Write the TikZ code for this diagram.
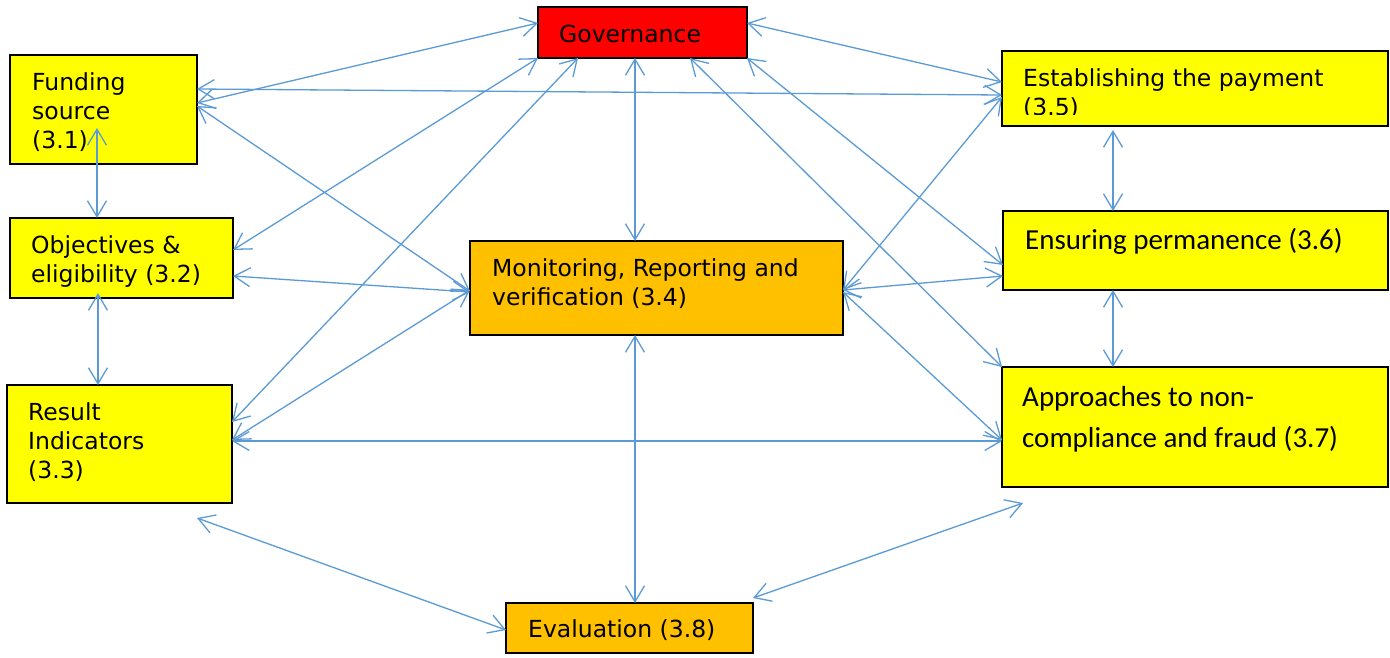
\documentclass[tikz,border=0pt]{standalone}
\usepackage{fontspec}
\setmainfont{DejaVu Sans}
\newfontfamily\calib{Carlito}
\usetikzlibrary{arrows.meta,calc}
\definecolor{arrowblue}{RGB}{91,155,213}
\definecolor{boxyellow}{RGB}{255,255,0}
\definecolor{boxorange}{RGB}{255,192,0}
\definecolor{boxred}{RGB}{255,0,0}
\begin{document}
\begin{tikzpicture}[x=1pt,y=-1pt,
  box/.style={draw=black, line width=1.6pt, anchor=north west, inner sep=0pt, outer sep=0pt},
  lbl/.style={anchor=base west, inner sep=0pt, font=\fontsize{23.5}{29}\selectfont},
  clbl/.style={anchor=base west, inner sep=0pt, font=\calib\fontsize{29}{41}\selectfont},
  conn/.style={draw=arrowblue, line width=1.3pt, {Straight Barb[length=16pt,width=19pt]}-{Straight Barb[length=16pt,width=19pt]}}]
\useasboundingbox (0,0) rectangle (1390,657);
\fill[white] (0,0) rectangle (1390,657);
% boxes
\node[box, fill=boxyellow, minimum width=187pt, minimum height=109pt] (fund) at (10,55) {};
\node[box, fill=boxyellow, minimum width=223pt, minimum height=80pt] (obj) at (10,218) {};
\node[box, fill=boxyellow, minimum width=225pt, minimum height=118pt] (res) at (7,385) {};
\node[box, fill=boxred, minimum width=209pt, minimum height=51pt] (gov) at (538,7) {};
\node[box, fill=boxorange, minimum width=373pt, minimum height=94pt] (mon) at (470,241) {};
\node[box, fill=boxyellow, minimum width=386pt, minimum height=75pt] (est) at (1002,51) {};
\node[box, fill=boxyellow, minimum width=385pt, minimum height=79pt] (ens) at (1003,211) {};
\node[box, fill=boxyellow, minimum width=386pt, minimum height=120pt] (app) at (1002,367) {};
\node[box, fill=boxorange, minimum width=247pt, minimum height=50pt] (eva) at (506,603) {};
% texts
\node[lbl] (fundt) at (32,90) {\vtop{\hbox{Funding}\hbox{source}\hbox{(3.1)}}};
\node[lbl] (objt) at (31,253) {\vtop{\hbox{Objectives \&}\hbox{eligibility (3.2)}}};
\node[lbl] (rest) at (28,420) {\vtop{\hbox{Result}\hbox{Indicators}\hbox{(3.3)}}};
\node[lbl] (govt) at (559,42) {Governance};
\node[lbl] (mont) at (492,276) {\vtop{\hbox{Monitoring, Reporting and}\hbox{verification (3.4)}}};
\begin{scope}
\clip (1002,51) rectangle (1388,114);
\node[lbl] (estt) at (1023,86) {\vtop{\hbox{Establishing the payment}\hbox{(3.5)}}};
\end{scope}
\node[clbl] (enst) at (1025,249) {Ensuring permanence (3.6)};
\node[clbl] (appt) at (1022,406) {\vtop{\hbox{Approaches to non-}\hbox{compliance and fraud (3.7)}}};
\node[lbl] (evat) at (528,637) {Evaluation (3.8)};
% free ends
\coordinate (resfree) at (197,518);
\coordinate (evafree) at (753,598);
\coordinate (appfree) at (1023,503);
% connectors
\draw[conn] ($(fund.north west)+(87,73)$) -- ($(obj.north west)+(87,0)$);
\draw[conn] ($(obj.north west)+(88,75)$) -- ($(res.north west)+(91,0)$);
\draw[conn] ($(fund.north east)+(0,48)$) -- ($(gov.north west)+(0,16)$);
\draw[conn] ($(fund.north east)+(0,34)$) -- ($(est.north west)+(0,44)$);
\draw[conn] ($(gov.north east)+(0,16)$) -- ($(est.north west)+(0,31)$);
\draw[conn] (gov.south west) -- ($(obj.north east)+(0,32)$);
\draw[conn] ($(gov.south west)+(40,0)$) -- ($(res.north east)+(0,37)$);
\draw[conn] ($(gov.south west)+(97,0)$) -- ($(mon.north west)+(165,0)$);
\draw[conn] (gov.south east) -- ($(ens.north west)+(0,54)$);
\draw[conn] ($(gov.south west)+(152,0)$) -- (app.north west);
\draw[conn] ($(fund.north east)+(0,51)$) -- ($(mon.north west)+(0,50)$);
\draw[conn] ($(obj.north east)+(0,58)$) -- ($(mon.north west)+(0,51)$);
\draw[conn] ($(res.north east)+(0,55)$) -- ($(mon.north west)+(0,49)$);
\draw[conn] ($(res.north east)+(0,56)$) -- ($(app.north west)+(0,74)$);
\draw[conn] ($(mon.south west)+(165,0)$) -- ($(eva.north west)+(129,0)$);
\draw[conn] ($(mon.north east)+(0,49)$) -- ($(est.north west)+(0,46)$);
\draw[conn] ($(mon.north east)+(0,49)$) -- ($(ens.north west)+(0,65)$);
\draw[conn] ($(mon.north east)+(0,51)$) -- ($(app.north west)+(0,73)$);
\draw[conn] ($(est.south west)+(111,4)$) -- ($(ens.north west)+(110,0)$);
\draw[conn] ($(ens.south west)+(110,0)$) -- ($(app.north west)+(111,0)$);
\draw[conn] (resfree) -- ($(eva.north west)+(0,27)$);
\draw[conn] (evafree) -- (appfree);
\end{tikzpicture}
\end{document}
